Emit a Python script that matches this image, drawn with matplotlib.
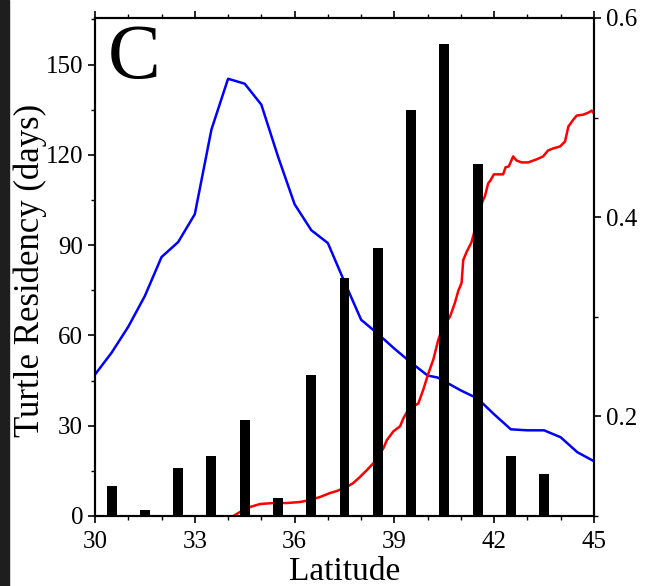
import numpy as np
import matplotlib
matplotlib.use("Agg")
import matplotlib.pyplot as plt
from matplotlib.patches import Rectangle
from matplotlib.ticker import MultipleLocator

plt.rcParams['font.family'] = ['Liberation Serif', 'DejaVu Serif']

# turtle residency bars (left axis)
bar_lat = [30.5, 31.5, 32.5, 33.5, 34.5, 35.5, 36.5, 37.5, 38.5, 39.5, 40.5, 41.5, 42.5, 43.5]
bar_days = [10, 2, 16, 20, 32, 6, 47, 79, 89, 135, 157, 117, 20, 14]

# blue curve (right axis)
blue_lat = [30.0, 30.5, 31.0, 31.5, 32.0, 32.5, 33.0, 33.5, 34.0, 34.5, 35.0, 35.5,
            36.0, 36.5, 37.0, 37.5, 38.0, 38.5, 39.0, 39.5, 40.0, 40.3, 41.0, 41.5,
            42.0, 42.5, 43.0, 43.5, 44.0, 44.5, 45.0]
blue_val = [0.242, 0.264, 0.290, 0.321, 0.360, 0.375, 0.403, 0.488, 0.539, 0.534, 0.513, 0.461,
            0.413, 0.387, 0.374, 0.335, 0.297, 0.283, 0.268, 0.254, 0.241, 0.239, 0.226, 0.218,
            0.202, 0.187, 0.186, 0.186, 0.179, 0.164, 0.155]

# red curve (right axis)
red_lat = [34.11, 34.36, 34.66, 34.96, 35.36, 35.76, 36.16, 36.46, 36.76, 37.06, 37.26, 37.56,
           37.76, 37.96, 38.17, 38.37, 38.67, 38.77, 38.97, 39.17, 39.27, 39.42, 39.72, 39.87,
           40.02, 40.17, 40.32, 40.47, 40.67, 40.82, 40.92, 41.02, 41.07, 41.17, 41.32, 41.65,
           41.72, 41.82, 41.89, 41.99, 42.27, 42.34, 42.44, 42.57, 42.67, 42.82, 43.02, 43.27,
           43.47, 43.62, 43.77, 43.98, 44.13, 44.23, 44.38, 44.48, 44.68, 44.83, 44.93, 45.0]
red_val = [0.099, 0.104, 0.109, 0.112, 0.113, 0.113, 0.114, 0.116, 0.119, 0.123, 0.125, 0.129,
           0.133, 0.139, 0.146, 0.153, 0.168, 0.176, 0.185, 0.190, 0.198, 0.207, 0.213, 0.227,
           0.243, 0.257, 0.277, 0.290, 0.300, 0.314, 0.326, 0.334, 0.357, 0.365, 0.375, 0.416,
           0.421, 0.434, 0.437, 0.443, 0.443, 0.450, 0.451, 0.461, 0.457, 0.455, 0.455, 0.458,
           0.461, 0.467, 0.469, 0.471, 0.476, 0.491, 0.498, 0.502, 0.503, 0.505, 0.507, 0.504]

fig = plt.figure(figsize=(6.45, 5.86), dpi=100)
ax = fig.add_axes([0.1473, 0.1195, 0.7736, 0.8498])
ax2 = ax.twinx()

# lines on the twin, bars on top of them
ax2.plot(blue_lat, blue_val, color='#0000ff', lw=1.8)
ax2.plot(red_lat, red_val, color='#ff0000', lw=1.8)
ax.bar(bar_lat, bar_days, width=0.3, color='black')
ax.set_zorder(ax2.get_zorder() + 1)
ax.patch.set_visible(False)

ax.set_xlim(30, 45)
ax.set_ylim(0, 165.5)
ax2.set_ylim(0.1, 0.6)

ax.xaxis.set_major_locator(MultipleLocator(3))
ax.xaxis.set_minor_locator(MultipleLocator(1))
ax.yaxis.set_major_locator(MultipleLocator(30))
ax.yaxis.set_minor_locator(MultipleLocator(15))
ax2.yaxis.set_minor_locator(MultipleLocator(0.1))
ax2.set_yticks([0.2, 0.4, 0.6])

ax.tick_params(axis='x', which='both', top=True, direction='out', labelsize=18, pad=6)
ax.tick_params(axis='y', which='both', direction='out', labelsize=18)
ax.tick_params(which='major', length=5, width=1.2)
ax.tick_params(which='minor', length=3, width=1.0)
ax2.tick_params(which='major', direction='out', length=5, width=1.2, labelsize=18)
ax2.tick_params(which='minor', direction='out', length=3, width=1.0)

for a in (ax, ax2):
    for s in a.spines.values():
        s.set_linewidth(1.5)

ax.set_xlabel('Latitude', fontsize=24, labelpad=2)
ax.set_ylabel('Turtle Residency (days)', fontsize=25)
ax.yaxis.set_label_coords(-0.097, 0.494)
ax.text(0.025, 0.99, 'C', transform=ax.transAxes, fontsize=57, va='top', ha='left')

# dark strip along the left edge of the screenshot
fig.patches.append(Rectangle((0, 0), 9 / 645, 1, transform=fig.transFigure,
                             color='#1e1e1e', zorder=10))

fig.savefig('out.png', dpi=100)
